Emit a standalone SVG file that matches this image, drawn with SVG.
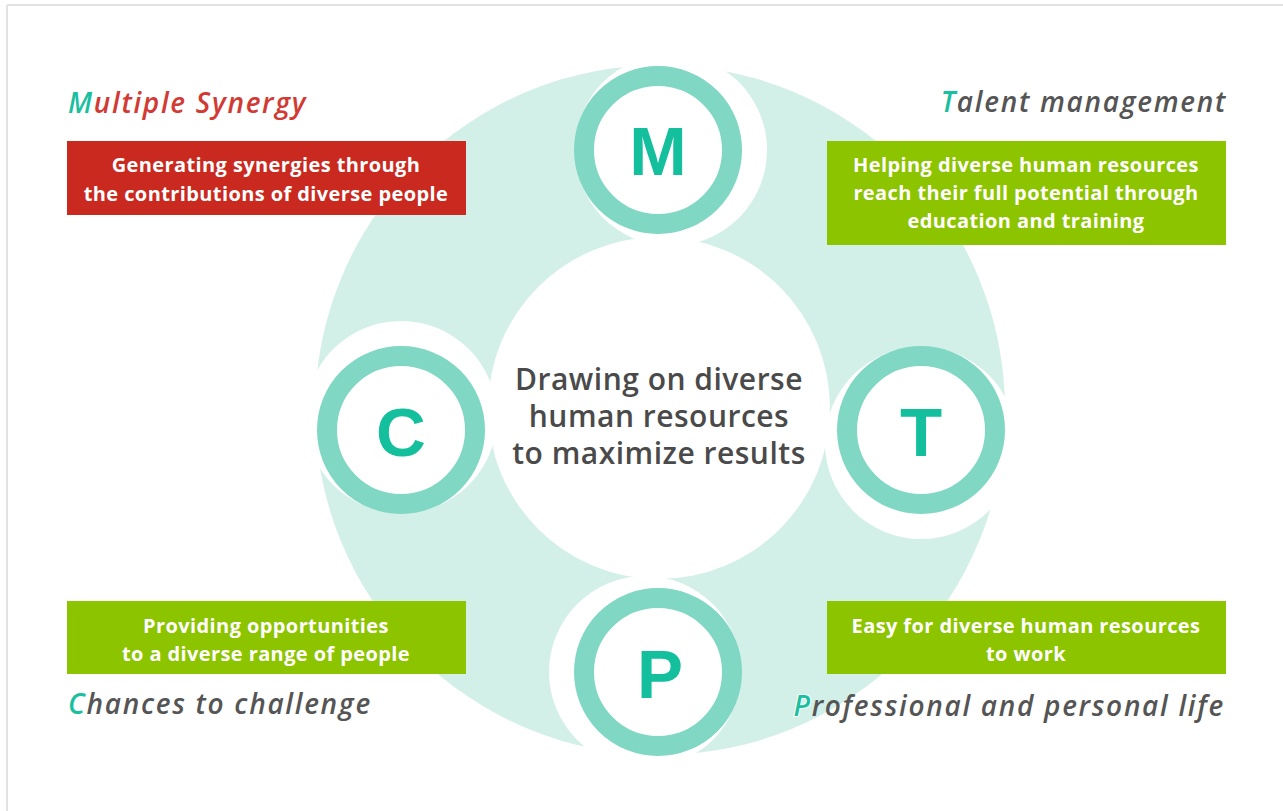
<svg xmlns="http://www.w3.org/2000/svg" width="1283" height="811" viewBox="0 0 1283 811">
<style>
.ring{fill:#d2efe8}
.white{fill:#ffffff}
.node{fill:#ffffff;stroke:#7fd7c4;stroke-width:20}
.letter{font-family:"Liberation Sans",Arial,sans-serif;font-weight:700;font-size:69px;fill:#14bf9e;text-anchor:middle}
.title{font-family:"Open Sans","Liberation Sans",sans-serif;font-style:italic;font-weight:600;font-size:28px;letter-spacing:1.7px;fill:#555555}
.init{fill:#19c0a0;stroke:#ffffff;stroke-width:2;paint-order:stroke}
.box-red{fill:#c9291e}
.box-green{fill:#8dc400}
.boxtext{font-family:"Open Sans","Liberation Sans",sans-serif;font-weight:700;font-size:20px;letter-spacing:0.4px;fill:#ffffff;text-anchor:middle}
.center{font-family:"Open Sans","Liberation Sans",sans-serif;font-weight:600;font-size:30px;letter-spacing:0.5px;fill:#4a4a4a;text-anchor:middle}
</style>
<rect x="0" y="0" width="1283" height="811" fill="#ffffff"/>
<g id="frame" stroke="#e2e2e2" stroke-width="2" fill="none">
<line x1="7" y1="5" x2="1283" y2="5"/>
<line x1="7" y1="5" x2="7" y2="811"/>
</g>
<g id="cycle">
<circle class="ring" cx="660" cy="410" r="345"/>
<circle class="white" cx="659" cy="408" r="171"/>
<circle class="white" cx="671" cy="150" r="96"/>
<circle class="white" cx="921" cy="443" r="96"/>
<circle class="white" cx="645" cy="672" r="96"/>
<circle class="white" cx="401" cy="417" r="96"/>
</g>
<g id="connectors"></g>
<g id="node-M">
<circle class="node" cx="658" cy="150" r="74"/>
<text class="letter" x="658" y="175">M</text>
</g>
<g id="node-T">
<circle class="node" cx="921" cy="430" r="74"/>
<text class="letter" x="921" y="456">T</text>
</g>
<g id="node-P">
<circle class="node" cx="658" cy="672" r="74"/>
<text class="letter" x="660" y="698">P</text>
</g>
<g id="node-C">
<circle class="node" cx="401" cy="430" r="74"/>
<text class="letter" x="401" y="456">C</text>
</g>
<g id="center">
<text class="center" x="659" y="390">Drawing on diverse</text>
<text class="center" x="659" y="427">human resources</text>
<text class="center" x="659" y="464">to maximize results</text>
</g>
<g id="multiple-synergy">
<text class="title" x="68" y="113" style="fill:#d23a34"><tspan class="init">M</tspan>ultiple Synergy</text>
<rect class="box-red" x="67" y="141" width="399" height="74"/>
<text class="boxtext" x="266" y="172">Generating synergies through</text>
<text class="boxtext" x="266" y="201">the contributions of diverse people</text>
</g>
<g id="talent-management">
<text class="title" x="1227" y="112" text-anchor="end"><tspan class="init">T</tspan>alent management</text>
<rect class="box-green" x="827" y="141" width="399" height="104"/>
<text class="boxtext" x="1026" y="172">Helping diverse human resources</text>
<text class="boxtext" x="1026" y="200">reach their full potential through</text>
<text class="boxtext" x="1026" y="228">education and training</text>
</g>
<g id="chances">
<rect class="box-green" x="67" y="601" width="399" height="73"/>
<text class="boxtext" x="266" y="633">Providing opportunities</text>
<text class="boxtext" x="266" y="661">to a diverse range of people</text>
<text class="title" x="68" y="714"><tspan class="init">C</tspan>hances to challenge</text>
</g>
<g id="professional">
<rect class="box-green" x="827" y="601" width="399" height="73"/>
<text class="boxtext" x="1026" y="633">Easy for diverse human resources</text>
<text class="boxtext" x="1026" y="661">to work</text>
<text class="title" x="1225" y="716" text-anchor="end"><tspan class="init">P</tspan>rofessional and personal life</text>
</g>
</svg>
